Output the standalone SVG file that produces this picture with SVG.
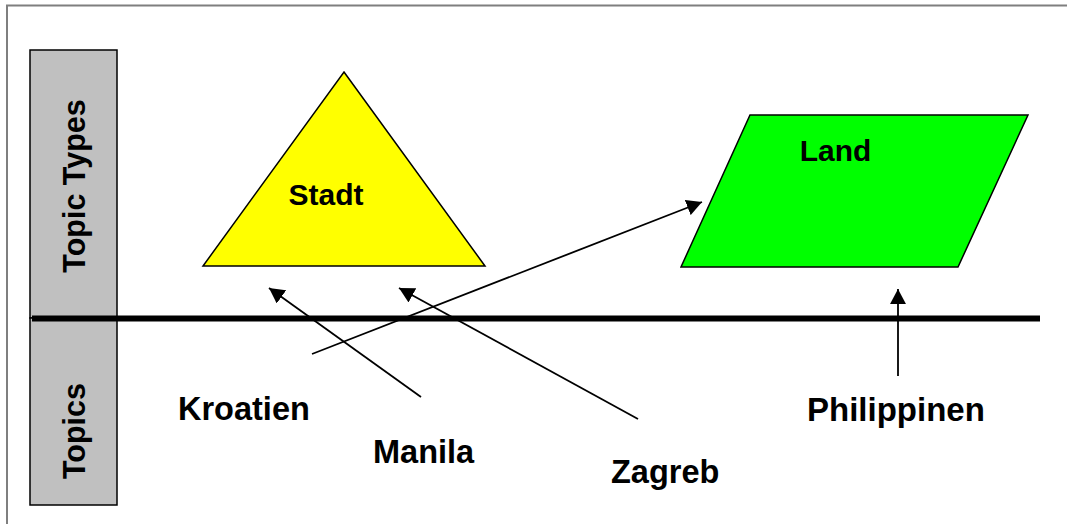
<svg xmlns="http://www.w3.org/2000/svg" width="1067" height="524" viewBox="0 0 1067 524">
  <style>
    .lbl { font-family: "Liberation Sans", Arial, sans-serif; font-weight: bold; fill: #000; }
    .band { fill: #c0c0c0; stroke: #000; stroke-width: 1.5; }
    .conn { stroke: #000; stroke-width: 1.8; fill: none; marker-end: url(#ah); }
  </style>
  <defs>
    <marker id="ah" markerWidth="8.5" markerHeight="9" refX="8.5" refY="4.5" orient="auto" markerUnits="strokeWidth">
      <path d="M0,0 L8.5,4.5 L0,9 Z" fill="#000"/>
    </marker>
  </defs>
  <rect x="0" y="0" width="1067" height="524" fill="#fff"/>
  <rect x="7" y="5.5" width="1100" height="560" fill="none" stroke="#7f7f7f" stroke-width="2"/>

  <g id="band-topic-types">
    <rect class="band" x="30" y="50" width="87" height="268"/>
    <text class="lbl" font-size="30.5" text-anchor="middle" transform="translate(85,186) rotate(-90)">Topic Types</text>
  </g>
  <g id="band-topics">
    <rect class="band" x="30" y="318" width="87" height="187"/>
    <text class="lbl" font-size="30.5" text-anchor="middle" transform="translate(85,431) rotate(-90)">Topics</text>
  </g>

  <line id="divider" x1="32" y1="318.5" x2="1040" y2="318.5" stroke="#000" stroke-width="6"/>

  <g id="stadt">
    <polygon points="344,72 485,266 203,266" fill="#ffff00" stroke="#000" stroke-width="1.5"/>
    <text class="lbl" font-size="30" x="326" y="205" text-anchor="middle">Stadt</text>
  </g>
  <g id="land">
    <polygon points="750,115 1028,115 958,267 681,267" fill="#00ff00" stroke="#000" stroke-width="1.5"/>
    <text class="lbl" font-size="30" x="835.5" y="161" text-anchor="middle">Land</text>
  </g>

  <g id="kroatien"><text class="lbl" font-size="32.5" x="178" y="420">Kroatien</text></g>
  <g id="manila"><text class="lbl" font-size="32.5" x="373" y="463">Manila</text></g>
  <g id="zagreb"><text class="lbl" font-size="32.5" x="611" y="483">Zagreb</text></g>
  <g id="philippinen"><text class="lbl" font-size="33" x="807" y="421">Philippinen</text></g>

  <g id="connectors">
    <line class="conn" x1="312" y1="354" x2="702" y2="202"/>
    <line class="conn" x1="421" y1="397" x2="269" y2="288"/>
    <line class="conn" x1="638" y1="419" x2="399" y2="288"/>
    <line class="conn" x1="898" y1="376" x2="898" y2="289"/>
  </g>
</svg>
